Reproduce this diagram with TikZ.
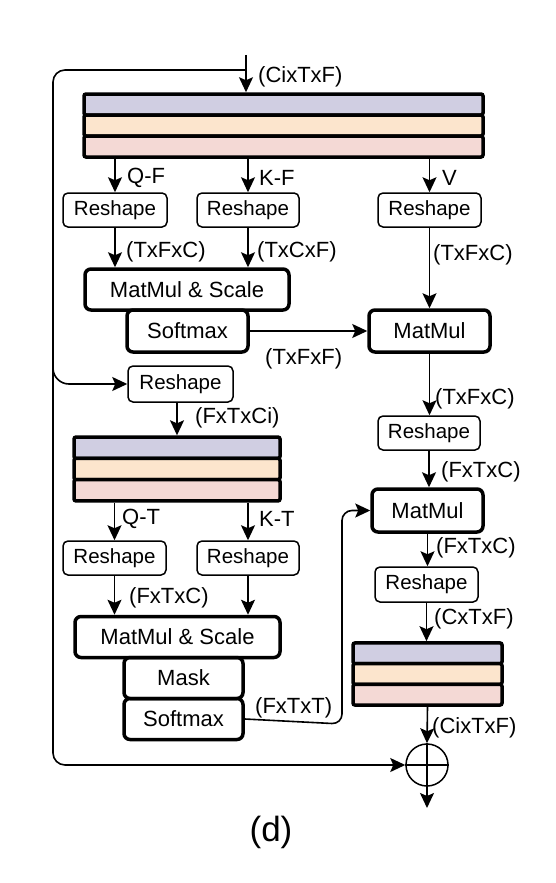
\documentclass[tikz,border=0pt]{standalone}
\usepackage{fontspec}
\setmainfont{Liberation Sans}
\usetikzlibrary{arrows.meta}
\definecolor{lav}{RGB}{208,206,226}
\definecolor{peach}{RGB}{252,229,205}
\definecolor{pinkl}{RGB}{244,217,213}
\begin{document}
\begin{tikzpicture}[x=1pt,y=-1pt,
  font=\fontsize{22}{26}\selectfont,
  arr/.style={-{Stealth[length=15pt,width=14pt,inset=3pt]}, line width=1.6pt},
  ln/.style={line width=1.6pt},
  thinbox/.style={draw, line width=1.5pt, rounded corners=5pt, inner sep=0pt,
    font=\fontsize{20.5}{24}\selectfont},
  thickbox/.style={draw, line width=3.5pt, rounded corners=6pt, inner sep=0pt},
  layer/.style={draw, line width=3.5pt, rounded corners=2pt, inner sep=0pt},
  lbl/.style={anchor=west, inner sep=0pt}]
\useasboundingbox (0,0) rectangle (555,883);

% top stack
\node[layer, fill=lav,   minimum width=399pt, minimum height=21pt] (s1a) at (283.5,104.5) {};
\node[layer, fill=peach, minimum width=399pt, minimum height=21pt] (s1b) at (283.5,125.5) {};
\node[layer, fill=pinkl, minimum width=399pt, minimum height=21pt] (s1c) at (283.5,146.5) {};

% first row reshapes
\node[thinbox, minimum width=104pt, minimum height=34pt] (R1) at (115,210) {Reshape};
\node[thinbox, minimum width=102pt, minimum height=34pt] (R2) at (248,210) {Reshape};
\node[thinbox, minimum width=103pt, minimum height=34pt] (R3) at (429.5,210) {Reshape};

\node[thickbox, minimum width=204pt, minimum height=41pt] (MS1) at (187,289.5) {MatMul \& Scale};
\node[thickbox, minimum width=121pt, minimum height=42pt] (SM1) at (187.5,331) {Softmax};
\node[thickbox, minimum width=121pt, minimum height=42pt] (MM1) at (429.5,331) {MatMul};

\node[thinbox, minimum width=102pt, minimum height=34pt] (R4) at (429,433) {Reshape};
\node[thickbox, minimum width=111pt, minimum height=43pt] (MM2) at (427.5,510.5) {MatMul};
\node[thinbox, minimum width=103pt, minimum height=35pt] (R5) at (426.5,584.5) {Reshape};

% right stack
\node[layer, fill=lav,   minimum width=149pt, minimum height=20.7pt] (s3a) at (427.5,653.3) {};
\node[layer, fill=peach, minimum width=149pt, minimum height=20.7pt] (s3b) at (427.5,674) {};
\node[layer, fill=pinkl, minimum width=149pt, minimum height=20.7pt] (s3c) at (427.5,694.7) {};

\node[draw, circle, line width=1.5pt, minimum size=42pt, inner sep=0pt] (plus) at (427,765) {};
\draw[line width=1.5pt] (plus.north) -- (plus.south) (plus.west) -- (plus.east);

% left branch
\node[thinbox, minimum width=105pt, minimum height=36pt] (R6) at (180.5,384) {Reshape};
\node[layer, fill=lav,   minimum width=206pt, minimum height=21.3pt] (s2a) at (177,447.7) {};
\node[layer, fill=peach, minimum width=206pt, minimum height=21.3pt] (s2b) at (177,469) {};
\node[layer, fill=pinkl, minimum width=206pt, minimum height=21.3pt] (s2c) at (177,490.3) {};

\node[thinbox, minimum width=103pt, minimum height=34pt] (R7) at (114.5,558) {Reshape};
\node[thinbox, minimum width=102pt, minimum height=34pt] (R8) at (248,558) {Reshape};
\node[thickbox, minimum width=205pt, minimum height=41pt] (MS2) at (177.5,637) {MatMul \& Scale};
\node[thickbox, minimum width=119pt, minimum height=41pt] (MK) at (183.5,678) {Mask};
\node[thickbox, minimum width=119pt, minimum height=41pt] (SM2) at (183.5,719) {Softmax};

\node[inner sep=0pt, font=\fontsize{35}{40}\selectfont] (cap) at (271,832) {(d)};

% coordinates
\coordinate (in) at (246,55);
\coordinate (ins) at (246,70);
\coordinate (tl) at (53,70);
\coordinate (br) at (53,355);
\coordinate (sx) at (342,724);
\coordinate (out) at (427,808);

% connectors
\draw[arr] (in) -- (in |- s1a.north);
\draw[arr, rounded corners=12pt] (ins) -- (tl) -- (tl |- plus.west) -- (plus.west);
\draw[arr, rounded corners=16pt] (br) -- (br |- R6.west) -- (R6.west);

\draw[arr] (R1.north |- s1c.south) -- (R1.north);
\draw[arr] (R2.north |- s1c.south) -- (R2.north);
\draw[arr] (R3.north |- s1c.south) -- (R3.north);
\draw[arr] (R1.south) -- (R1.south |- MS1.north);
\draw[arr] (R2.south) -- (R2.south |- MS1.north);
\draw[arr] (R3.south) -- (MM1.north);
\draw[arr] (SM1.east) -- (SM1.east -| MM1.west);
\draw[arr] (MM1.south) -- (MM1.south |- R4.north);
\draw[arr] (R4.south) -- (R4.south |- MM2.north);
\draw[arr] (MM2.south) -- (MM2.south |- R5.north);
\draw[arr] (R5.south) -- (R5.south |- s3a.north);
\draw[arr] (s3c.south) -- (plus.north);
\draw[arr] (plus.south) -- (out);

\draw[arr] (s2a.north |- R6.south) -- (s2a.north);
\draw[arr] (R7.north |- s2c.south) -- (R7.north);
\draw[arr] (R8.north |- s2c.south) -- (R8.north);
\draw[arr] (R7.south) -- (R7.south |- MS2.north);
\draw[arr] (R8.south) -- (R8.south |- MS2.north);
\draw[arr, rounded corners=10pt] (SM2.east) -- (sx) -- (sx |- MM2.west) -- (MM2.west);

% labels
\node[lbl] (l1) at (258,77) {(CixTxF)};
\node[lbl] (l2) at (127,178) {Q-F};
\node[lbl] (l3) at (259,178) {K-F};
\node[lbl] (l4) at (442,178) {V};
\node[lbl] (l5) at (126,252) {(TxFxC)};
\node[lbl] (l6) at (257,252) {(TxCxF)};
\node[lbl] (l7) at (433,255) {(TxFxC)};
\node[lbl] (l8) at (265,359) {(TxFxF)};
\node[lbl] (l9) at (435,399) {(TxFxC)};
\node[lbl] (l10) at (441,472) {(FxTxC)};
\node[lbl] (l11) at (436,548) {(FxTxC)};
\node[lbl] (l12) at (434,619) {(CxTxF)};
\node[lbl] (l13) at (432,728) {(CixTxF)};
\node[lbl] (l14) at (195,418) {(FxTxCi)};
\node[lbl] (l15) at (122,519) {Q-T};
\node[lbl] (l16) at (259,519) {K-T};
\node[lbl] (l17) at (129,598) {(FxTxC)};
\node[lbl] (l18) at (255,708) {(FxTxT)};
\end{tikzpicture}
\end{document}
